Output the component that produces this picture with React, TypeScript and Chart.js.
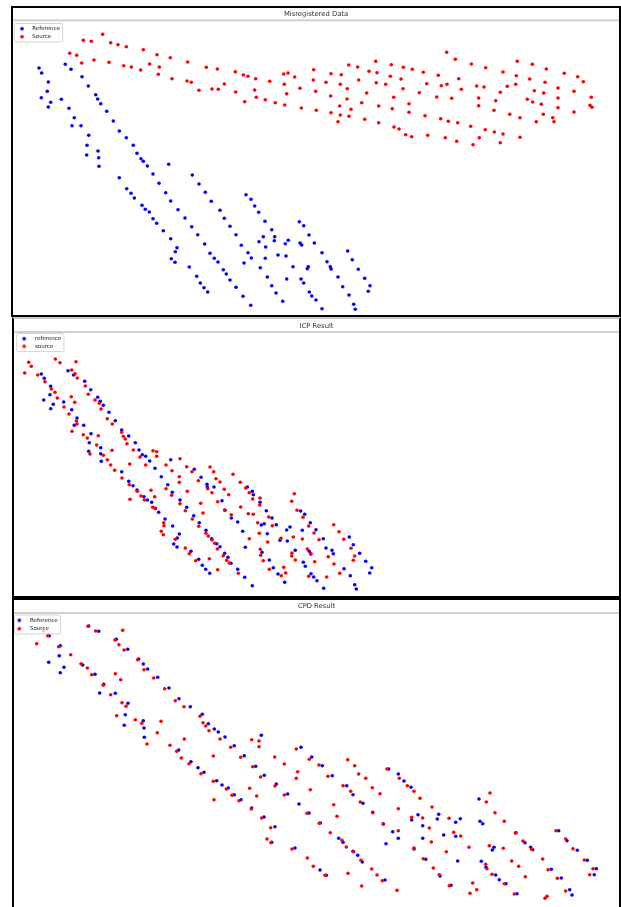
import React, { useEffect, useRef } from 'react';
import { Chart, registerables } from 'chart.js';

Chart.register(...registerables);

type Pt = [number, number];

// ---------- Panel 1: Misregistered Data ----------
const misregisteredReference: Pt[] = [
  [39,68],[41.7,73],[48.3,82],[47.3,91.3],[41.3,97.7],[50.7,102.3],[48.3,107],
  [65.3,64.3],[71,69.3],[82,76.7],[88.3,86],[95.7,94.7],[97.7,99],[100.7,103.7],
  [61.3,99.3],[69,108.3],[74.3,117.7],[72,125.7],[81,125.7],[88.7,135.3],[87,145.3],[86.7,155],[98,151],[98.7,157.7],[99,166.3],
  [106.7,111.3],[113.3,121],[119.3,131],[126.3,137.7],[133.3,145.3],[137,153.3],[141,158.7],[143.3,161.3],[147.3,166],[153,174],[159,183.3],[165.7,192.7],[170.7,201],[178,209.7],[185,218],[191.7,226.7],[197.7,234.7],[204.7,244],[210,253.3],[214.3,258.3],
  [168.7,164.3],[192.3,175],[199,184],[205.3,192.3],[211.3,201.3],
  [119.3,177.7],[126.7,188.7],[131,193.3],[134.3,198],[142,205.3],[145.3,209.3],[149.3,212],[153,218.7],[156.7,223.3],[163.3,230.7],[170.7,238.7],[177,247.7],[175.3,251.7],[171.3,258.7],[175,262.3],[189.3,267],[196.7,276.3],[200.3,283],[204,287.7],[207.7,292],
  [220,210.3],[224.3,218.3],[230,226.3],[236,234.7],[241.3,245.3],[248,252.7],[251.3,258],[244,263],
  [218,262],[223.3,269.7],[226.3,274],[230,280],[236,287.3],[243,296.3],[250.7,305.3],
  [246,194.7],[251,199.3],[254.7,206],[258.7,212.3],[265,221.3],[271.7,229.7],[274.7,236.7],[274.3,240.7],[263.3,236.7],[259,241.7],[265.7,247],[265.3,258.3],[260.3,267.7],[267.3,277],[271.7,285.7],[276,293],[282.7,301.3],
  [278,255],[285.3,243.7],[288.3,240.3],[286,256],[293,266.7],[286.7,279],
  [299.3,221.7],[303.7,225.7],[309,235],[314.3,243],[300,243],[301.7,245],[308.3,266.7],[307.3,268.7],[301,279],[303.7,283],[309.3,292],[311.7,296],[316,300],[322,308.7],
  [322,252.7],[327,261.7],[330.3,266.7],[331,269],[338,277],[342.7,286.7],[349,295],[353.7,304.3],[355.3,309.3],
  [347.7,251],[352.3,259.7],[358.3,269.3],[364.7,278.3],[370,285.7],[368.3,291.3],
];
const misregisteredSource: Pt[] = [
  [102.7,34.3],[83.3,40.3],[91.3,41.3],[110.7,42.7],[118,44.7],[126.3,46.7],[143.3,49.7],[69.7,53.3],[76.7,55.3],[157,54.7],[170.3,57.7],[187.7,62],[81.7,63],[94,60],[109,62.3],[123.7,65.7],[131.3,67],[140.7,70],[149.7,64],[159.3,67],[158.3,74.3],[172,78.7],[187,81],[191.3,82.3],[199,90.3],[206.3,67.3],[212,89],
  [217.3,69],[235.3,71.7],[243.3,75],[248,76.3],[255.7,78.7],[269.7,81.3],[283.7,74],[288,73],[294.7,77],[313.7,69.7],[313.3,80],[331,73.7],[341.3,74.7],[348.7,65],[357.7,67],[375.7,61.3],[369,71.3],[377,72.7],[391.3,64.7],[403.3,67.3],[412.3,69.3],[390.3,76.3],[401,79],
  [218.3,89.3],[224.3,84],[235.7,92],[254.7,90],[256.3,97.3],[244.7,101.7],[265.3,99.7],[275.3,102.7],[284.3,84.3],[286.7,93.7],[284.7,105],[300,88.3],[301.3,108],[315.7,91.3],[316.3,110.3],[326,82.3],[330.7,96],[331,112.7],[340.3,84.3],[347.3,88.7],[347,99],[339.7,106],[340.3,115],[338,121.7],[349,116.3],[351,109.3],[358.7,80],[366.7,93],[361.7,102.7],[364.7,119.3],[376.3,82.7],[385.7,84.3],[378.7,106],[378.7,122.7],[393.7,97.3],[392.3,108.7],[394,127],[399,129],[403,88.7],[409,103.7],[409,112.3],[405.7,134.7],[411.7,136.7],[419.3,92.7],
  [446.7,52.3],[455.3,59.3],[471.3,64],[485.7,67.7],[517.3,61.3],[532.3,64.3],[546.3,69],[503,72],[516.3,75.7],[529.7,79],[545,82.3],[564.3,73.3],[577.7,76.7],[583.3,81.7],
  [423.3,72.3],[438.3,75.3],[458.7,78.7],[426.7,83.7],[441.3,85.7],[447,84.3],[461.3,89.3],[476.7,86],[484,87],[507.3,86.3],[515.7,84.3],[500.3,92.3],
  [436.7,97],[451.7,98.3],[478.7,98],[495.7,100.7],[478.7,105.7],[494,110.3],[534.3,90.7],[543.7,93],[527.3,99.3],[532.7,102],[541.3,104.3],[558,88],[574,91.3],[558,98],[558,107.7],[574,112],[591.3,97.3],[590,105.3],[592,107.3],
  [425,115.7],[440.7,118.7],[448.3,121.3],[457.7,122.7],[470.7,126.3],[485.3,129.7],[494.3,132],[503,134],[509.7,114.3],[520,117.7],[543.3,114.3],[536.3,121.7],[552.7,117.7],[554,121.7],
  [427.7,135.3],[445.3,137.7],[456.7,141.3],[473,144.7],[479.3,137.7],[500.3,142.7],[520,137.3],
];

// ---------- Panel 2: ICP Result ----------
const icpReference: Pt[] = [
  [41.3,374],[44.3,378.3],[50.7,386.3],[50,394.7],[43.7,400],[53.3,404.3],[50.7,408.7],[63.7,402],[71.7,409.7],[77,418],[74.3,425.3],[83.7,425.3],[91,433.7],[89.3,442.7],[88.7,451.3],[100.7,447.7],[100.7,453.7],[101.3,461.3],
  [68,370.7],[73.7,375],[84.7,381.3],[90.7,389.7],[97.7,397.3],[100.3,401.3],[103.3,405.3],[109,412.3],[115.3,420.7],[121.7,430],[128.7,436],[135.3,442.7],[139,450],[142.3,454.7],[145.7,456.3],[149.7,461],[155,468.3],[161.3,476.7],[167.7,484.7],[172.3,492.3],[180,500],[186.7,507.3],[193.7,515.7],[170.7,459.7],[194.3,469.3],
  [121.7,471.7],[128.7,481.3],[133,485.7],[137,490],[144,496.7],[147.3,500],[151.7,502.3],[155.3,508.3],[158.7,512.3],[165,519],[172.7,526],[179.3,534],[177.3,538],[173.7,544],[177,547],[191,551.3],[198.7,559.3],
  [201,477.3],[207,484.3],[207.3,487],[214,487],[222,500.7],[225,510.3],[199.3,522.7],[206,530.3],[211.7,538.7],[216.7,543.7],[220,546.7],[202.3,565.3],[205.7,569.3],[209.7,573.3],[224.7,553.3],[228,557.3],[231,563.3],[237.7,569.3],[244.7,577.3],[252.3,585.7],[231.3,518],[237.7,522],[242.7,531.3],[245.3,547.3],[247.3,487],[252.3,491.3],[253.3,494.7],[260,502.3],[266.3,510.7],[272,518],[276.3,524.7],[261.3,525],[264.3,523.7],[267.3,533.7],[262,552.3],[269.3,560],[273.3,567.7],[278,574],[284.7,582.3],[280,540.3],[287.3,541],[286.7,530],[290,527],[295.3,550.3],[300.7,511],[304.7,514.3],[310.3,522.7],[302.3,530.3],[316,529.7],[309.3,551.3],[310.7,554],[303.3,562.3],[305.3,566.3],[311,573.7],[313.7,577],[317,580.7],[323.7,588.3],[323.3,538.7],[326,548],[332,550.3],[333.3,553.7],[349.3,537],[353.3,544.7],[359.7,553.3],[365.7,561.3],[371.7,567.7],[369.7,573],[344,568.7],[350.3,575.7],[354.7,584.7],[356.3,589],
];
const icpSource: Pt[] = [
  [24.7,373],[28.7,362.3],[31.3,366.3],[37.7,375],[45,381.7],[51.3,389],[55,392.3],[57.3,398],[55.3,359],[60,362.7],[76,361.7],[71.7,370],[75,373.7],[77.3,378],[85.3,386],[88.3,394.3],[95,400],[99.3,403.3],[101,409],[107.3,418.7],[112.3,424],[71.3,396.7],[74.7,402.3],[64,407],[69,414],[76.3,421],[77,424],[72,431.3],[83.3,434.7],[87.3,438],[98.3,435.7],[96.7,445],[90,454],[103.3,455.3],[107.3,459.7],[112,450.3],[110.7,465],[114.7,470.3],[121.7,432.3],[123.3,436.3],[125.3,439],[127,443.7],[133.3,450],[140,457],[129.7,464],[145.7,465],[153,450.7],[156.7,451.7],[156.7,456.3],[166,465],[172,470.7],[180,458.7],[186.7,466.7],[192,471.7],[198.3,480.7],[179.3,476.7],[179.3,482.3],[166,488.7],[171.7,495.3],[180,503.7],[185.3,510.7],[192.3,519],[198.7,526.3],[187.3,491.3],[122,478],[129.3,484.7],[137.3,491.3],[141,496],[144.3,500],[151,490.3],[154.7,496.7],[130,499.3],[152.7,507.3],[155.3,508.7],[163.7,522.7],[164,525.7],[161.3,531.3],[163.3,534.7],[175.3,539.3],[185.3,548],[189.3,553.7],[195.7,560.7],
  [210,467],[213.7,471.7],[216,478.7],[220,482],[233,474.3],[240.3,482.3],[207.7,488.7],[212,492.7],[224.3,489.3],[228.7,494.7],[217.7,501.7],[200.7,503.3],[203,513],[224.7,510],[231.3,514.7],[245.7,488],[249.3,492.7],[252.7,499],[240.7,507],[248.3,513.7],[253.3,514.3],[257.7,522.7],[259.3,533.3],[249.3,538.7],[267.7,542],[268.7,517],[272.3,525.7],[259.7,505],[260,498],[294.3,493.7],[291.7,501.3],[297,510.3],[303,517.3],[308.7,526],[314,533],[319,539.7],[293.3,537],[302.3,539],[281,538.3],[206,533.3],[208.3,536],[212,540],[214.7,543.3],[217.3,549],[209.3,558.7],[217.7,569.7],[223.3,555.7],[226.7,560.3],[229.3,563],[238.3,573.3],[260.3,549.3],[260.7,555.3],[263.3,560.7],[269.3,569.3],[283.7,567.3],[285.7,573],[281.3,575.7],[292,553],[291.7,556],[295.3,560],[307.3,549],[311,553.7],[314.7,561.7],[308.7,576.3],[326.7,577],[328.3,556.7],[334,564],[333.7,524.7],[339,531.7],[343.7,539.3],[351,548.3],[354.7,556],[353.3,560.3],[339.7,573.3],
];

// ---------- Panel 3: CPD Result ----------
const cpdReference: Pt[] = [
  [49.3,635.7],[60.3,645.7],[59.3,655.7],[48.7,662.3],[64,667.3],[60.3,672.7],[82.7,665],[95,674.3],[103.7,684.3],[99.7,693],[115.3,693.3],[128,703.3],[125.3,714.7],[124.3,725.3],[88.7,626],[98.7,631.3],[116.3,639.3],[127.7,649.3],[138.7,659],[143.3,664],[147.7,669],[157.7,677.3],[169,688],[179,698.7],[190.3,706.7],[202.3,714.3],[208.3,723.7],[214.3,729],[143.3,720.7],[144,728],[144.3,737.3],[178.7,750],[191,761.7],[198,767.7],[204,772.3],
  [218.3,732],[225,737],[234.3,745.7],[244.3,755.7],[255.7,766.3],[264.3,775.3],[276.3,784],[287.7,794],[216.7,780.7],[222,785],[228.3,788],[234.3,794.7],[241,799.7],[251.7,808],[264,817],[275,826.7],[271.7,842.3],[295,848],[261.3,735.3],[301,747.3],[311.7,757],[322.3,765.7],[332.3,775.7],[346.7,785.7],[353,794.7],[363,803.3],[372.7,812.3],[383.3,823.7],[392.7,831.7],[398.3,838.3],[299,804],[309,813],[320.3,823],[338.7,838.3],[343,842.3],[353,851.3],[357.7,855.3],[362.3,862],[320,870],[326.3,875.3],[385,880],[388.7,769],[398.3,774],[404,781],[411,787.3],[418,814.7],[411.7,820],[386,843.7],
  [422.7,825.7],[422.7,838.3],[414,849],[425.7,859.3],[440,876],[451,885.3],[438.7,814.3],[437.3,819],[443.7,835],[455.7,822.3],[460.3,818.7],[455.7,836.3],[457.7,861],[479,799],[480,821.3],[482.7,823.7],[481.3,861.3],[486,867.3],[492.3,850],[494,847.3],[495.7,875],[499.3,879.7],[506,883.7],[517,893.7],[516,832.7],[525,842.7],[530.7,847.3],[532.7,849.7],[558.7,830.7],[567,840.7],[577.3,850.3],[587.3,860.3],[596.3,868.7],[594.3,874.7],[551.3,869.3],[561.3,878],[569.7,889.7],[572,895],
];
const cpdSource: Pt[] = [
  [36.7,643.7],[47.7,635.7],[43.3,631.3],[58.7,646.7],[70.7,654.7],[81,663.7],[87.3,668],[91.7,674.7],[103.3,685.3],[110.7,694.7],[88,626.3],[95.7,631],[122.7,630.3],[115,640],[119,644.7],[124,650],[137.7,659.7],[144,669.7],[153.7,678],[164.7,688.7],[175.3,700.7],[184,706.7],[200,716.3],[203,722.7],[205.7,726],[209,730.7],[115.3,673.7],[120.7,679.7],[122,702.7],[126,706.3],[116.7,715.7],[135.3,719.7],[141.7,723.3],[161,721.3],[157.3,732.7],[147,744],[170,745.3],[176.7,751.3],[181.3,758],[184.3,739],[189,763.7],[201,773.7],[213.3,756],[213.3,781.3],[214,799.7],
  [220,739],[230.7,747.3],[240.7,757.3],[252.7,766.7],[260.7,777],[275,786],[284.3,795],[251.7,739.7],[259,741],[259,746.7],[274.7,757],[284.3,764],[296.3,749],[309.3,759.3],[319,765],[328,776.3],[297.7,771.7],[296.3,778.3],[310.3,789.7],[347.7,759.7],[354.7,765.7],[358.7,774],[365.7,778.3],[343,785.7],[350.7,791.3],[360.3,802],[372.3,787.7],[380,793.7],[387,769],[399.3,778.3],[407.3,785.7],[414,791.3],[420,798.3],[226.3,789],[232,795.3],[239,800.7],[249.7,788.3],[256.7,796],[251.3,809],[261.7,818],[270.7,827.7],[267,839],[271,842.7],[292,849],[307.3,858],[313.3,866.3],[325,875.3],[307,813.3],[319.3,823.3],[330.3,832.7],[333.7,804.7],[337,816.3],[342,840.3],[346.3,847],[353.7,851.7],[361,860.3],[348,873.3],[361.7,886],[371.7,869],[377,875],[382.3,880.7],[372.7,812.7],[383.3,824.3],[398.3,808.7],[398.3,830.7],[411.7,817.3],[414,848],[397,890.3],
  [432,807],[422.7,818],[429.3,828],[431.3,842],[423.3,858.7],[433.3,868],[439.3,874.7],[449.3,885.7],[446.3,851.7],[449,818.3],[453.7,832.3],[460.7,836],[469,847.3],[472.7,883],[470,893.3],[476.7,889.7],[490,793],[486.3,802],[495,812.7],[504.3,821.3],[515.3,833],[523,841],[531.7,849.3],[489.3,845.7],[503.3,848.3],[485.7,864.3],[487,868.7],[492,874.3],[504.3,883.7],[514.3,894],[511.7,861],[518.7,866.3],[525.3,876.7],[542.7,859],[548,869.7],[545,898.3],[547,896.3],[556,830.7],[565.7,839],[573,848.7],[584.3,860],[593,868.7],[589.7,874.7],[557.3,878.3],[565.7,891],
];

const panelTitles = ['Misregistered Data', 'ICP Result', 'CPD Result'];
const referenceLabels = ['Reference', 'reference', 'Reference'];
const sourceLabels = ['Source', 'source', 'Source'];

const REF_COLOR = '#0000ff';
const SRC_COLOR = '#ff0000';
const FONT = "'DejaVu Sans', sans-serif";
const POINT_R = 1.8;
const LEGEND_FONT = 5.5;

type Spec = {
  title: string;
  refLabel: string;
  srcLabel: string;
  ref: Pt[];
  src: Pt[];
  left: number; top: number; width: number; height: number;
  topColor: string;
  padTop: number; lineH: number; padBottom: number;
  legPad: number; legW: number; legDx: number; legMarkerY: number;
};

const specs: Spec[] = [
  { title: panelTitles[0], refLabel: referenceLabels[0], srcLabel: sourceLabels[0], ref: misregisteredReference, src: misregisteredSource,
    left: 11, top: 6, width: 610, height: 311, topColor: '#000', padTop: 2.1, lineH: 9.2, padBottom: 4.15,
    legPad: 2.5, legW: 14.05, legDx: 0.5, legMarkerY: 20.7 },
  { title: panelTitles[1], refLabel: referenceLabels[1], srcLabel: sourceLabels[1], ref: icpReference, src: icpSource,
    left: 12, top: 317, width: 609, height: 281, topColor: '#c8c8c8', padTop: 3.4, lineH: 8.6, padBottom: 2.85,
    legPad: 2.1, legW: 16.15, legDx: 0, legMarkerY: 19.7 },
  { title: panelTitles[2], refLabel: referenceLabels[2], srcLabel: sourceLabels[2], ref: cpdReference, src: cpdSource,
    left: 12, top: 598, width: 609, height: 311, topColor: '#000', padTop: 1.4, lineH: 10.6, padBottom: 2.65,
    legPad: 2.9, legW: 10.35, legDx: 2.8, legMarkerY: 20.3 },
];

function makeDot(color: string, r: number, dx: number) {
  const size = Math.ceil(2 * (r + Math.abs(dx)) + 2);
  const c = document.createElement('canvas');
  c.width = size;
  c.height = size;
  const g = c.getContext('2d')!;
  g.fillStyle = color;
  g.beginPath();
  g.arc(size / 2 - dx, size / 2, r, 0, Math.PI * 2);
  g.fill();
  return c;
}

function Panel({ spec }: { spec: Spec }) {
  const canvasRef = useRef<HTMLCanvasElement | null>(null);
  const cw = spec.width - 4;
  const ch = spec.height - 4;

  useEffect(() => {
    const canvas = canvasRef.current;
    if (!canvas) return;
    const pageLeft = spec.left + 2;
    const pageTop = spec.top + 2;
    const dots = [makeDot(REF_COLOR, POINT_R, spec.legDx), makeDot(SRC_COLOR, POINT_R, spec.legDx)];
    const legendTitleH = Math.max(0.01, spec.legMarkerY - spec.legPad - LEGEND_FONT / 2);

    const decor = {
      id: 'panelDecor',
      beforeDraw(chart: any) {
        const ctx = chart.ctx;
        ctx.save();
        ctx.fillStyle = '#d0d0d0';
        ctx.fillRect(0, spec.padTop + spec.lineH, chart.width, 2);
        ctx.restore();
      },
      afterDatasetsDraw(chart: any) {
        const lg = chart.legend;
        if (!lg || !lg.legendHitBoxes || !lg.legendHitBoxes.length) return;
        const hb = lg.legendHitBoxes;
        const markerX = hb[0].left + spec.legW / 2 - spec.legDx;
        const left = Math.max(0.5, markerX - 7.5);
        let right = 0;
        hb.forEach((h: any) => { right = Math.max(right, h.left + h.width); });
        right += 2.7;
        const top = hb[0].top + LEGEND_FONT / 2 - 5.2;
        const last = hb[hb.length - 1];
        const bottom = last.top + LEGEND_FONT / 2 + 5.2;
        const ctx = chart.ctx;
        ctx.save();
        ctx.beginPath();
        if (ctx.roundRect) ctx.roundRect(left, top, right - left, bottom - top, 1.5);
        else ctx.rect(left, top, right - left, bottom - top);
        ctx.fillStyle = 'rgba(255,255,255,0.8)';
        ctx.fill();
        ctx.strokeStyle = '#cccccc';
        ctx.lineWidth = 0.8;
        ctx.stroke();
        ctx.restore();
        lg.draw();
      },
    };

    const chart = new Chart(canvas, {
      type: 'scatter',
      data: {
        datasets: [
          {
            label: spec.refLabel,
            data: spec.ref.map(([x, y]) => ({ x, y })),
            backgroundColor: REF_COLOR,
            borderColor: REF_COLOR,
            pointRadius: POINT_R,
            pointBorderWidth: 0,
            pointHoverRadius: POINT_R,
            order: 1,
          },
          {
            label: spec.srcLabel,
            data: spec.src.map(([x, y]) => ({ x, y })),
            backgroundColor: SRC_COLOR,
            borderColor: SRC_COLOR,
            pointRadius: POINT_R,
            pointBorderWidth: 0,
            pointHoverRadius: POINT_R,
            order: 0,
          },
        ],
      },
      options: {
        animation: false,
        responsive: false,
        devicePixelRatio: 1,
        events: [],
        layout: { padding: 0, autoPadding: false },
        scales: {
          x: { type: 'linear', display: false, min: pageLeft, max: pageLeft + cw },
          y: {
            type: 'linear',
            display: false,
            reverse: true,
            min: pageTop + spec.padTop + spec.lineH + spec.padBottom,
            max: pageTop + ch,
          },
        },
        plugins: {
          tooltip: { enabled: false },
          title: {
            display: true,
            text: spec.title,
            color: '#333',
            font: { family: FONT, size: 6.8, weight: 'normal', lineHeight: `${spec.lineH}px` },
            padding: { top: spec.padTop, bottom: spec.padBottom },
          },
          legend: {
            display: true,
            position: 'chartArea',
            align: 'start',
            title: {
              display: true,
              text: ' ',
              padding: 0,
              font: { family: FONT, size: 1, lineHeight: `${legendTitleH}px` },
            },
            labels: {
              usePointStyle: true,
              pointStyleWidth: spec.legW,
              padding: spec.legPad,
              color: '#333',
              font: { family: FONT, size: LEGEND_FONT },
              sort: (a: any, b: any) => a.datasetIndex - b.datasetIndex,
              generateLabels: (c: any) =>
                (Chart.defaults.plugins.legend.labels.generateLabels as any)(c).map((it: any) => ({
                  ...it,
                  pointStyle: dots[it.datasetIndex],
                })),
            },
          },
        },
      } as any,
      plugins: [decor],
    });
    return () => chart.destroy();
  }, [spec]);

  return (
    <div
      style={{
        position: 'absolute',
        left: spec.left,
        top: spec.top,
        width: spec.width,
        height: spec.height,
        boxSizing: 'border-box',
        borderStyle: 'solid',
        borderWidth: 2,
        borderColor: '#000',
        borderTopColor: spec.topColor,
        background: '#fff',
      }}
    >
      <canvas ref={canvasRef} width={cw} height={ch} style={{ display: 'block', width: cw, height: ch }} />
    </div>
  );
}

export default function App() {
  return (
    <div style={{ position: 'absolute', left: 0, top: 0, width: 621, height: 907, overflow: 'hidden', background: '#fff' }}>
      {specs.map((s) => (
        <Panel key={s.title} spec={s} />
      ))}
    </div>
  );
}
